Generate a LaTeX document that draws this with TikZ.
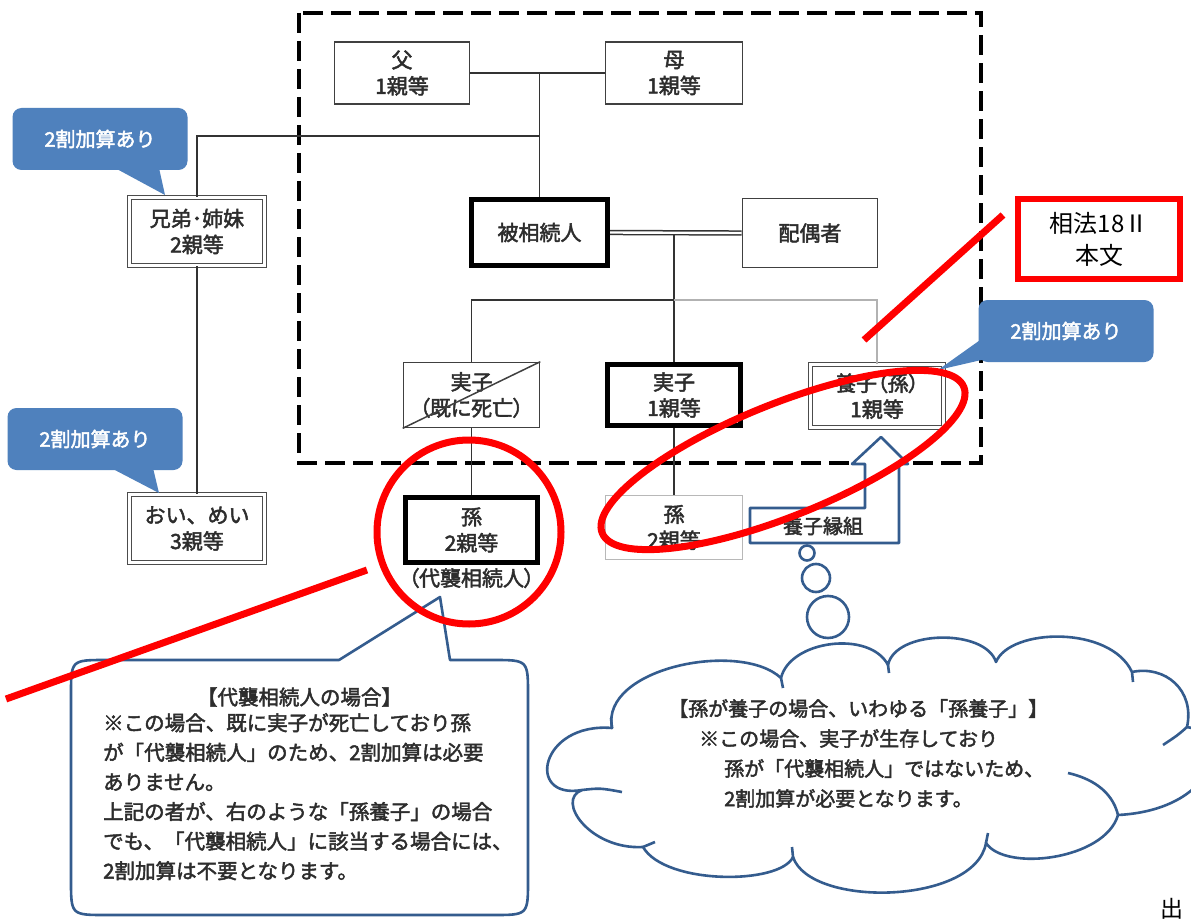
\documentclass[tikz,border=0pt]{standalone}
\usepackage{fontspec}
\setmainfont{Noto Sans CJK JP}
\newfontfamily\jpb{Noto Sans CJK JP}[FakeBold=2.2]
\newfontfamily\jpp{Noto Sans CJK JP}[FakeBold=2.2,RawFeature=+palt]
\definecolor{cblue}{RGB}{79,129,189}
\definecolor{lblue}{RGB}{52,92,142}
\definecolor{txt}{RGB}{45,45,45}
\begin{document}
\begin{tikzpicture}[x=1pt,y=-1pt,
  box/.style={draw=black!75, line width=1.6pt, fill=white, align=center, text=txt,
    font=\jpb\fontsize{21}{26}\selectfont, inner sep=0pt},
  thickbox/.style={box, draw=black, line width=5pt},
  dblbox/.style={box, draw=black!70, double=white, double distance=2.4pt, line width=1.3pt},
  lightbox/.style={box, draw=black!28, line width=1.5pt},
  conn/.style={draw=black!80, line width=1.6pt},
  lightconn/.style={draw=black!30, line width=1.5pt},
  bcall/.style={fill=cblue, rounded corners=9pt, text=white, inner sep=0pt,
    font=\jpb\fontsize{20}{24}\selectfont, minimum width=175pt, minimum height=62pt},
  bline/.style={draw=lblue, line width=2.6pt, line join=round},
  redline/.style={draw=red, line width=7pt},
  bodytext/.style={text=txt, inner sep=0pt, align=left}
]
\useasboundingbox (0,0) rectangle (1191,920);
\clip (0,0) rectangle (1191,920);
\fill[white] (0,0) rectangle (1191,920);

% dashed group
\draw[line width=4.5pt, dash pattern=on 20pt off 8pt] (299,13) rectangle (981,463);

% boxes
\node[box, minimum width=135pt, minimum height=62pt] (fa) at (402,73) {父\\1親等};
\node[box, minimum width=137pt, minimum height=62pt] (mo) at (674,73) {母\\1親等};
\node[thickbox, minimum width=136pt, minimum height=66pt] (hi) at (539.5,232.5) {被相続人};
\node[box, minimum width=135pt, minimum height=69pt] (hai) at (810,233) {配偶者};
\node[dblbox, minimum width=135pt, minimum height=68pt] (kyo) at (197,231.5) {兄弟･姉妹\\2親等};
\node[dblbox, minimum width=135pt, minimum height=68pt] (oi) at (197,528.5) {おい、めい\\3親等};
\node[box, font=\jpp\fontsize{21}{26}\selectfont, minimum width=136pt, minimum height=65pt] (jd) at (471.5,395) {実子\\（既に死亡）};
\node[thickbox, minimum width=133pt, minimum height=61pt] (jk) at (674,395) {実子\\1親等};
\node[dblbox, font=\jpp\fontsize{21}{26}\selectfont, minimum width=133pt, minimum height=63pt] (yo) at (877,396) {養子（孫）\\1親等};
\node[thickbox, minimum width=132pt, minimum height=65pt] (ma1) at (471.5,530) {孫\\2親等};
\node[lightbox, minimum width=137pt, minimum height=64pt] (ma2) at (674,527.5) {孫\\2親等};
\node[text=txt, inner sep=0pt, font=\jpp\fontsize{21}{26}\selectfont] (dai) at (471.5,578) {（代襲相続人）};

% connectors
\coordinate (sib) at (197,136);
\coordinate (cj) at (674,300);
\draw[conn] (fa.east) -- (mo.west);
\draw[conn] (fa.east -| hi.north) -- (hi.north);
\draw[conn] (hi.north |- sib) -- (sib) -- (kyo.north);
\draw[conn] (kyo.south) -- (oi.north);
\draw[conn] (hi.east -| jk.north) -- (jk.north);
\draw[draw=black!80, line width=1.5pt, double=white, double distance=2.4pt] (hi.east) -- (hai.west);
\draw[conn] (cj) -| (jd.north);
\draw[lightconn] (cj) -| (yo.north);
\draw[conn] (jd.south) -- (ma1.north);
\draw[conn] (jk.south) -- (ma2.north);
\draw[black!75, line width=1.5pt] (jd.south west) -- (jd.north east);

% blue callouts
\node[bcall] (b1) at (100,139) {2割加算あり};
\fill[cblue] (115,168) -- (159,168) -- (165,195) -- cycle;
\node[bcall] (b2) at (95,439) {2割加算あり};
\fill[cblue] (111,468) -- (153,468) -- (159,493) -- cycle;
\node[bcall] (b3) at (1066,331) {2割加算あり};
\fill[cblue] (990,333) -- (990,358) -- (938,370) -- cycle;

% adoption arrow
\draw[bline, fill=white] (750,508) -- (865,508) -- (865,464) -- (852,464) -- (881,437)
  -- (908,464) -- (899,464) -- (899,543) -- (750,543) -- cycle;
\node[text=txt, inner sep=0pt, font=\jpb\fontsize{20}{24}\selectfont] (en) at (823,526) {養子縁組};

% thought circles
\draw[bline, fill=white] (807,553) circle (7.5);
\draw[bline, fill=white] (816,578) circle (14);
\draw[bline, fill=white] (828,617) circle (21);

% left speech callout
\draw[bline, fill=white] (339,660) -- (106,660) .. controls (71,660) .. (71,695)
  -- (71,880) .. controls (71,915) .. (106,915) -- (493,915) .. controls (528,915) .. (528,880)
  -- (528,695) .. controls (528,660) .. (493,660) -- (450,660) -- (440,597) -- cycle;
\node[text=txt, inner sep=0pt, font=\jpb\fontsize{20.5}{24}\selectfont] (lt0) at (299.5,697) {【代襲相続人の場合】};
\node[bodytext, anchor=north west, font=\jpb\fontsize{20.5}{29.6}\selectfont] (lt) at (103,713)
  {※この場合、既に実子が死亡しており孫\\が「代襲相続人」のため、2割加算は必要\\ありません。\\上記の者が、右のような「孫養子」の場合\\でも、「代襲相続人」に該当する場合には、\\2割加算は不要となります。};

% cloud
\coordinate (J1) at (612,728);
\coordinate (J2) at (781,678);
\coordinate (J3) at (888,665);
\coordinate (J4) at (996,662);
\coordinate (J5) at (1132,672);
\coordinate (J6) at (1187,727);
\coordinate (J8) at (1118,815);
\coordinate (J9) at (986,843);
\coordinate (J10) at (793,857);
\coordinate (J11) at (643,847);
\coordinate (J12) at (582,790);
\draw[bline, fill=white] (J1) .. controls (600,668) and (740,640) .. (J2)
  .. controls (790,640) and (870,630) .. (J3)
  .. controls (895,630) and (985,628) .. (J4)
  .. controls (1010,628) and (1110,625) .. (J5)
  .. controls (1165,665) and (1195,690) .. (J6)
  .. controls (1235,735) and (1215,810) .. (J8)
  .. controls (1105,860) and (1005,872) .. (J9)
  .. controls (975,905) and (810,908) .. (J10)
  .. controls (780,885) and (665,885) .. (J11)
  .. controls (590,850) and (555,800) .. (J12)
  .. controls (525,800) and (540,722) .. cycle;
\draw[bline] (J12) .. controls (600,788) .. (622,792);
\draw[bline] (J11) -- (655,842);
\draw[bline] (J8) .. controls (1112,790) and (1090,778) .. (1068,773);
\draw[bline] (J6) .. controls (1178,735) .. (1163,745);
\draw[bline] (J1) -- (611,718);
\draw[bline] (J2) -- (783,688);
\draw[bline] (J3) -- (889,673);
\draw[bline] (J5) -- (1133,682);
\draw[bline] (J9) -- (988,833);
\draw[bline] (J10) -- (792,847);
\node[bodytext, anchor=north west, font=\jpb\fontsize{20}{30}\selectfont] (ct) at (668,699)
  {【孫が養子の場合、いわゆる「孫養子」】\\\hspace*{31pt}※この場合、実子が生存しており\\\hspace*{56pt}孫が「代襲相続人」ではないため、\\\hspace*{56pt}2割加算が必要となります。};

% red annotations
\node[draw=red, line width=6pt, minimum width=162pt, minimum height=80pt, align=center,
  inner sep=0pt, font=\fontsize{24}{32}\selectfont] (rb) at (1099,239) {相法18Ⅱ\\本文};
\coordinate (r1) at (1003,215);
\coordinate (r2) at (864,340);
\draw[redline] (r1) -- (r2);
\draw[redline] (469,532) circle (92);
\draw[redline, rotate around={22:(783,460)}] (783,460) ellipse (195 and 56);
\coordinate (r3) at (367,570);
\coordinate (r4) at (6,699);
\draw[redline] (r3) -- (r4);

\node[anchor=south west, inner sep=0pt, font=\fontsize{23}{23}\selectfont] (de) at (1160,920) {出};
\end{tikzpicture}
\end{document}
